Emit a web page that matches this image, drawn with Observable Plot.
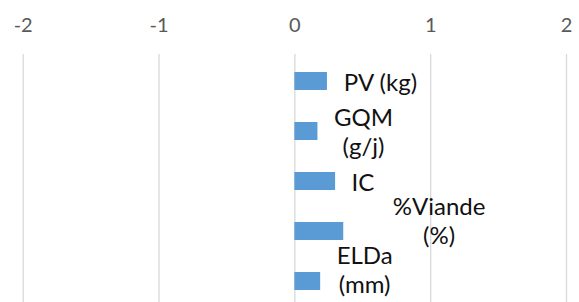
<!DOCTYPE html>
<html><head><meta charset="utf-8">
<script src="https://cdn.jsdelivr.net/npm/d3@7"></script>
<script src="https://cdn.jsdelivr.net/npm/@observablehq/plot@0.6"></script>
<style>
html,body{margin:0;padding:0;background:#fff;}
#chart{width:579px;height:302px;overflow:hidden;}
</style></head><body><div id="chart"></div>
<script>
const categories = ["PV (kg)", "GQM (g/j)", "IC", "%Viande (%)", "ELDa (mm)"];
const labels = ["PV (kg)", "GQM\n(g/j)", "IC", "%Viande\n(%)", "ELDa\n(mm)"];
const values = [0.24, 0.17, 0.30, 0.36, 0.19];
const xTicks = [-2, -1, 0, 1, 2];

const data = categories.map((c, i) => ({cat: c, value: values[i], label: labels[i]}));

const FONT_NAME = "Lato";
const LABEL_SIZE = 24;
const TICK_SIZE = 20;
const ctx = document.createElement("canvas").getContext("2d");
ctx.font = `${LABEL_SIZE}px ${FONT_NAME}`;
const boxW = s => Math.max(...s.split("\n").map(l => ctx.measureText(l).width));

// per-label nudges (style only)
const nudge = {"%Viande (%)": [33, -11], "ELDa (mm)": [0, -12]};

const labelMarks = data.map(d => {
  const [ndx, ndy] = nudge[d.cat] || [0, 0];
  return Plot.text([d], {
    x: "value", y: "cat", text: "label",
    textAnchor: "middle", lineAnchor: "middle",
    dx: 16 + boxW(d.label) / 2 + ndx, dy: ndy,
    fontSize: LABEL_SIZE, lineHeight: 29 / LABEL_SIZE, fill: "#111"
  });
});

const plot = Plot.plot({
  width: 579, height: 307,
  marginLeft: 22.7, marginRight: 13, marginTop: 54, marginBottom: 0,
  style: {fontFamily: FONT_NAME + ", sans-serif", background: "#fff"},
  x: {domain: [-2, 2], axis: null},
  y: {domain: categories, axis: null, paddingInner: 0.65, paddingOuter: 0.325},
  marks: [
    Plot.ruleX(xTicks, {stroke: "#d9d9d9", strokeWidth: 1.3}),
    Plot.axisX(xTicks, {anchor: "top", tickSize: 0, tickPadding: 23, fontSize: TICK_SIZE,
      fill: "#595959", label: null, tickFormat: d => String(d)}),
    Plot.barX(data, {x: "value", y: "cat", fill: "#5b9bd5"}),
    ...labelMarks
  ]
});
document.getElementById("chart").append(plot);
</script></body></html>
